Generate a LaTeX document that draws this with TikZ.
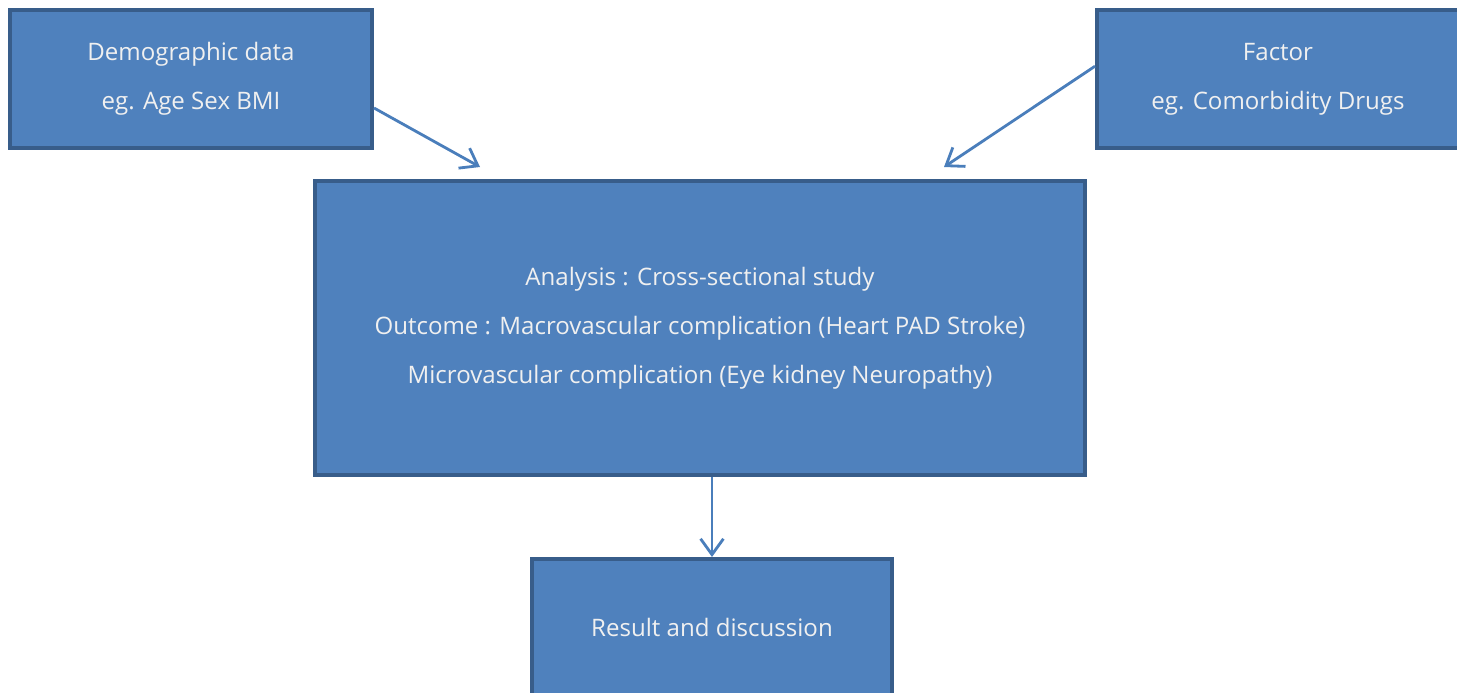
\documentclass[tikz,border=0pt]{standalone}
\usepackage{fontspec}
\setmainfont{Open Sans}
\usetikzlibrary{arrows.meta, positioning, calc}
\definecolor{boxfill}{RGB}{79,129,189}
\definecolor{boxline}{RGB}{56,93,138}
\definecolor{flowblue}{RGB}{74,126,187}

\begin{document}
\begin{tikzpicture}[x=0.02cm, y=-0.02cm,
    box/.style={draw=boxline, line width=2.3pt, fill=boxfill, text=white!94!black, align=center,
        inner sep=0pt, font=\fontsize{13.7}{28}\selectfont},
    flow/.style={-{Straight Barb[length=9pt, width=13pt]}, draw=flowblue, line width=1.6pt}]
    \clip (0,0) rectangle (1457,693);
    % inputs
    \node[box, minimum width=7.24cm, minimum height=2.76cm] (demo) at (191,79) {Demographic data\\eg. Age Sex BMI};
    \node[box, minimum width=7.24cm, minimum height=2.76cm] (factor) at (1278,79) {Factor\\eg. Comorbidity Drugs};
    % study
    \node[box, minimum width=15.4cm, minimum height=5.88cm] (study) at (700,328)
        {Analysis : Cross-sectional study\\Outcome : Macrovascular complication (Heart PAD Stroke)\\Microvascular complication (Eye kidney Neuropathy)};
    \node[box, minimum width=7.22cm, minimum height=2.72cm] (result) at (712,627) {Result and discussion};
    % arrows
    \coordinate (demotip) at (480,167);
    \coordinate (factortip) at (944,167);
    \draw[flow] (demo.-9.7) -- (demotip);
    \draw[flow] (factor.176.5) -- (factortip);
    \draw[flow] (study.south -| result.north) -- (result.north);
\end{tikzpicture}
\end{document}
